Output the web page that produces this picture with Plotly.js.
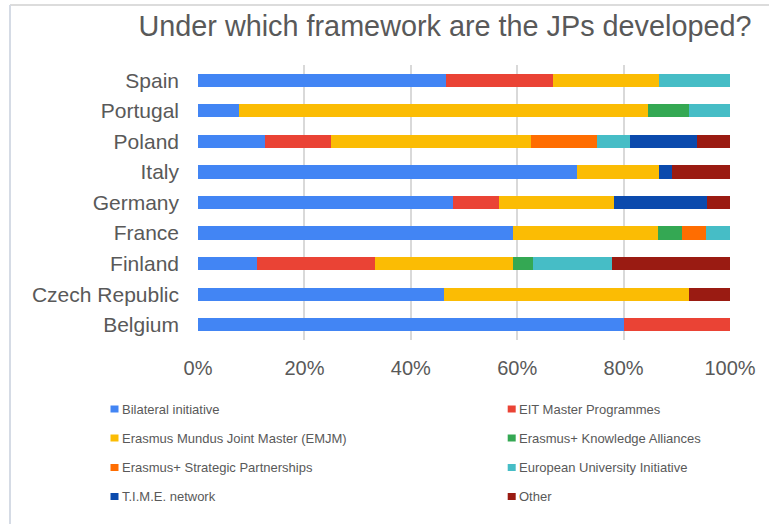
<!DOCTYPE html>
<html>
<head>
<meta charset="utf-8">
<script src="https://cdn.plot.ly/plotly-3.0.1.min.js"></script>
<style>html,body{margin:0;padding:0;background:#fff;}#chart{width:769px;height:524px;}</style>
</head>
<body>
<div id="chart"></div>
<script>
const countries = ["Spain", "Portugal", "Poland", "Italy", "Germany", "France", "Finland", "Czech Republic", "Belgium"];
const seriesNames = ["Bilateral initiative", "EIT Master Programmes", "Erasmus Mundus Joint Master (EMJM)", "Erasmus+ Knowledge Alliances", "Erasmus+ Strategic Partnerships", "European University Initiative", "T.I.M.E. network", "Other"];
const bilateral = [46.7, 7.7, 12.5, 71.2, 47.8, 59.1, 11.1, 46.2, 80];
const eit       = [20, 0, 12.5, 0, 8.7, 0, 22.2, 0, 20];
const emjm      = [20, 76.9, 37.5, 15.4, 21.7, 27.3, 25.9, 46.2, 0];
const knowledge = [0, 7.7, 0, 0, 0, 4.5, 3.7, 0, 0];
const strategic = [0, 0, 12.5, 0, 0, 4.5, 0, 0, 0];
const eui       = [13.3, 7.7, 6.25, 0, 0, 4.5, 14.8, 0, 0];
const timeNet   = [0, 0, 12.5, 2.5, 17.4, 0, 0, 0, 0];
const other     = [0, 0, 6.25, 10.9, 4.3, 0, 22.2, 7.7, 0];
const xTicks = [0, 20, 40, 60, 80, 100];
const xTickLabels = ["0%", "20%", "40%", "60%", "80%", "100%"];

const seriesValues = [bilateral, eit, emjm, knowledge, strategic, eui, timeNet, other];
const colors = ["#4285f4", "#ea4335", "#fbbc04", "#34a853", "#ff6d01", "#46bdc6", "#0b4aad", "#9a1b12"];

const traces = seriesValues.map((vals, i) => ({
  type: "bar",
  orientation: "h",
  name: seriesNames[i],
  y: countries,
  x: vals,
  marker: {color: colors[i], line: {width: 0}},
  showlegend: false,
  hoverinfo: "name+x"
}));

// plot area geometry in px
const L = 198, R = 730, T = 65, B = 340;
const px = v => (v - L) / (R - L);
const py = v => (B - v) / (B - T);

const legendCols = [{mark: 114.5, text: 120}, {mark: 511.7, text: 517}];
const legendRows = [409, 438, 467.5, 496.5];
const annotations = [];
const shapes = [];
seriesNames.forEach((n, i) => {
  const c = legendCols[i % 2], r = legendRows[Math.floor(i / 2)];
  annotations.push({
    xref: "paper", yref: "paper", x: px(c.text), y: py(r),
    xanchor: "left", yanchor: "middle", showarrow: false, text: n,
    font: {family: "Liberation Sans, Arial, sans-serif", size: 13, color: "#595959"}
  });
  shapes.push({
    type: "rect", xref: "paper", yref: "paper", xsizemode: "pixel", ysizemode: "pixel",
    xanchor: px(c.mark), yanchor: py(r), x0: -4, x1: 4, y0: -3.5, y1: 3.5,
    fillcolor: colors[i], line: {width: 0}
  });
});
// screenshot frame
shapes.push({type: "line", xref: "paper", yref: "paper", x0: px(10), x1: px(769), y0: py(5), y1: py(5), line: {color: "#dcdcdc", width: 2}});
shapes.push({type: "line", xref: "paper", yref: "paper", x0: px(10), x1: px(10), y0: py(5), y1: py(524), line: {color: "#d5dbe5", width: 2}});

const layout = {
  width: 769, height: 524,
  margin: {l: L, r: 769 - R, t: T, b: 524 - B, pad: 0},
  paper_bgcolor: "#ffffff", plot_bgcolor: "#ffffff",
  barmode: "stack", barnorm: "percent", bargap: 0.57,
  showlegend: false,
  title: {
    text: "Under which framework are the JPs developed?",
    font: {family: "Liberation Sans, Arial, sans-serif", size: 28.8, color: "#595959"},
    x: 445 / 769, xref: "container", xanchor: "center",
    y: 1 - 26 / 524, yref: "container", yanchor: "middle"
  },
  xaxis: {
    range: [0, 100], tickvals: xTicks, ticktext: xTickLabels,
    showgrid: true, gridcolor: "#d9d9d9", gridwidth: 2,
    zeroline: false, showline: false, ticks: "", ticklabelstandoff: 14,
    tickfont: {family: "Liberation Sans, Arial, sans-serif", size: 20, color: "#595959"},
    fixedrange: true
  },
  yaxis: {
    type: "category", autorange: "reversed",
    showgrid: false, zeroline: false, showline: false, ticks: "", ticklabelstandoff: 18,
    tickfont: {family: "Liberation Sans, Arial, sans-serif", size: 21, color: "#595959"},
    fixedrange: true
  },
  annotations: annotations,
  shapes: shapes
};

Plotly.newPlot("chart", traces, layout, {displayModeBar: false, staticPlot: true});
</script>
</body>
</html>
